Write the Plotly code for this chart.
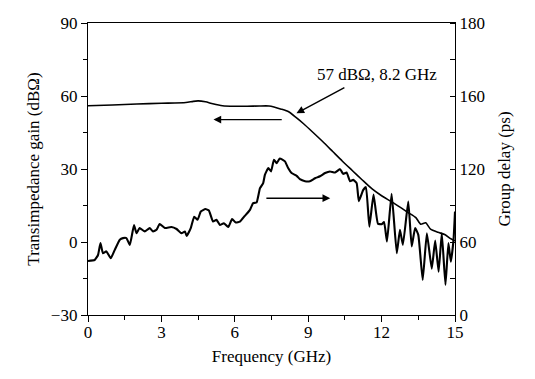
import plotly.graph_objects as go

# Transimpedance gain (left axis, dBOhm)
gain_freq = [0.0, 1.0, 2.0, 3.0, 4.0, 4.3, 4.5, 4.8, 5.1, 5.5, 6.0, 6.5, 7.0, 7.4,
             7.6, 7.9, 8.2, 8.5, 8.8, 9.2, 9.6, 10.0, 10.4, 10.8, 11.2, 11.6,
             12.0, 12.4, 12.8, 13.1, 13.4, 13.6, 13.8, 14.0, 14.3, 14.6, 14.8, 15.0]
gain_db = [56.0, 56.3, 56.7, 57.0, 57.3, 57.8, 58.0, 57.6, 56.8, 56.0, 55.8, 55.8, 55.9, 55.9,
           55.5, 54.6, 53.5, 51.2, 48.7, 45.0, 41.2, 37.2, 33.2, 29.4, 25.6, 21.9,
           19.0, 16.6, 14.0, 12.0, 10.0, 7.3, 7.9, 5.3, 4.0, 3.0, 1.5, 0.5]

# Group delay (right axis, ps on the linear 0-180 scale of the figure)
gd_freq = [0.00, 0.27, 0.41, 0.51, 0.61, 0.75, 0.93, 1.09, 1.30, 1.43, 1.57, 1.71, 1.88, 1.98,
           2.11, 2.32, 2.52, 2.66, 2.80, 2.93, 3.14, 3.41, 3.62, 3.82, 3.96, 4.03, 4.20, 4.34,
           4.48, 4.61, 4.80, 4.94, 5.11, 5.25, 5.39, 5.55, 5.73, 5.89, 6.04, 6.21, 6.41, 6.62,
           6.75, 6.89, 7.03, 7.16, 7.23, 7.37, 7.48, 7.60, 7.71, 7.84, 8.05, 8.18, 8.32, 8.53,
           8.66, 8.87, 9.07, 9.28, 9.48, 9.69, 9.89, 10.10, 10.30, 10.43, 10.57, 10.71, 10.84,
           10.98, 11.07, 11.25, 11.36, 11.50, 11.67, 11.85, 12.00, 12.10, 12.22, 12.41, 12.62,
           12.75, 12.87, 13.09, 13.23, 13.37, 13.50, 13.68, 13.85, 14.05, 14.19, 14.33, 14.46,
           14.61, 14.73, 14.83, 14.94, 15.00]
gd_ps = [33.3, 33.9, 37.0, 44.3, 38.1, 39.2, 35.0, 40.0, 46.4, 47.4, 47.4, 43.2, 55.5, 50.4,
         53.6, 51.5, 53.6, 51.5, 52.5, 56.1, 53.6, 54.2, 53.0, 50.4, 51.5, 48.8, 53.6, 60.6,
         58.7, 63.8, 65.3, 64.4, 57.6, 58.7, 55.5, 56.6, 54.2, 59.1, 57.0, 57.6, 61.1, 64.8,
         69.0, 69.3, 78.2, 81.3, 86.4, 90.6, 88.5, 95.7, 93.6, 96.5, 94.7, 90.6, 87.5, 85.8,
         83.7, 82.5, 82.5, 84.3, 85.5, 87.5, 88.5, 87.8, 89.9, 87.0, 87.8, 82.5, 83.3,
         81.3, 70.2, 77.1, 78.8, 54.5, 74.3, 56.3, 56.0, 57.3, 45.3, 74.7, 38.1,
         52.5, 43.2, 69.9, 42.2, 53.6, 49.4, 21.6, 50.4, 28.5, 45.9, 26.7, 50.4,
         18.6, 44.3, 32.9, 46.4, 63.8]

x_ticks = [0, 3, 6, 9, 12, 15]
left_ticks = [-30, 0, 30, 60, 90]
right_tickvals = [0, 45, 90, 135, 180]
right_ticktext = ["0", "60", "120", "160", "180"]

FONT = "Liberation Serif, Times New Roman, serif"

fig = go.Figure()
fig.add_trace(go.Scatter(x=gain_freq, y=gain_db, mode="lines",
                         line=dict(color="black", width=1.6, shape="spline", smoothing=0.6),
                         showlegend=False, yaxis="y"))
fig.add_trace(go.Scatter(x=gd_freq, y=gd_ps, mode="lines",
                         line=dict(color="black", width=2.1, shape="spline", smoothing=0.4),
                         showlegend=False, yaxis="y2"))

axis_common = dict(showgrid=False, zeroline=False, showline=True, linecolor="black",
                   linewidth=1.3, automargin=False,
                   tickfont=dict(family=FONT, size=17, color="black"),
                   title_font=dict(family=FONT, size=17, color="black"))

fig.update_layout(
    width=527, height=371,
    margin=dict(l=80, r=80, t=15, b=64),
    paper_bgcolor="white", plot_bgcolor="white",
    font=dict(family=FONT, size=17, color="black"),
    xaxis=dict(range=[0, 15], tickvals=x_ticks, ticks="outside", ticklen=6, tickwidth=1.2,
               tickcolor="black", mirror=True, ticklabelstandoff=-5,
               minor=dict(dtick=1.5, tick0=0, ticks="outside", ticklen=4, tickcolor="black"),
               title=dict(text="Frequency (GHz)", standoff=9), **axis_common),
    yaxis=dict(range=[-30, 90], tickvals=left_ticks, ticks="outside", ticklen=6, tickwidth=1.2,
               tickcolor="black",
               minor=dict(dtick=15, tick0=0, ticks="outside", ticklen=4, tickcolor="black"),
               title=dict(text="Transimpedance gain (dBΩ)", standoff=6), **axis_common),
    yaxis2=dict(range=[0, 180], overlaying="y", side="right", tickvals=right_tickvals,
                ticktext=right_ticktext, ticks="", anchor="x",
                minor=dict(dtick=22.5, tick0=0, ticks="inside", ticklen=5, tickcolor="black"),
                title=dict(text="Group delay (ps)", standoff=14), **axis_common),
)

arrow = dict(showarrow=True, arrowhead=2, arrowsize=1.1, arrowwidth=1.4, arrowcolor="black",
             text="", axref="x", ayref="y", xref="x", yref="y")
fig.add_annotation(x=5.13, y=50.3, ax=7.98, ay=50.3, **arrow)
fig.add_annotation(x=9.9, y=18.0, ax=7.23, ay=18.0, **arrow)
fig.add_annotation(x=8.52, y=52.9, ax=10.54, ay=63.8, **arrow)
fig.add_annotation(x=11.8, y=69.0, xref="x", yref="y", text="57 dBΩ, 8.2 GHz",
                   showarrow=False, font=dict(family=FONT, size=17, color="black"))

fig.write_html("out.html")
